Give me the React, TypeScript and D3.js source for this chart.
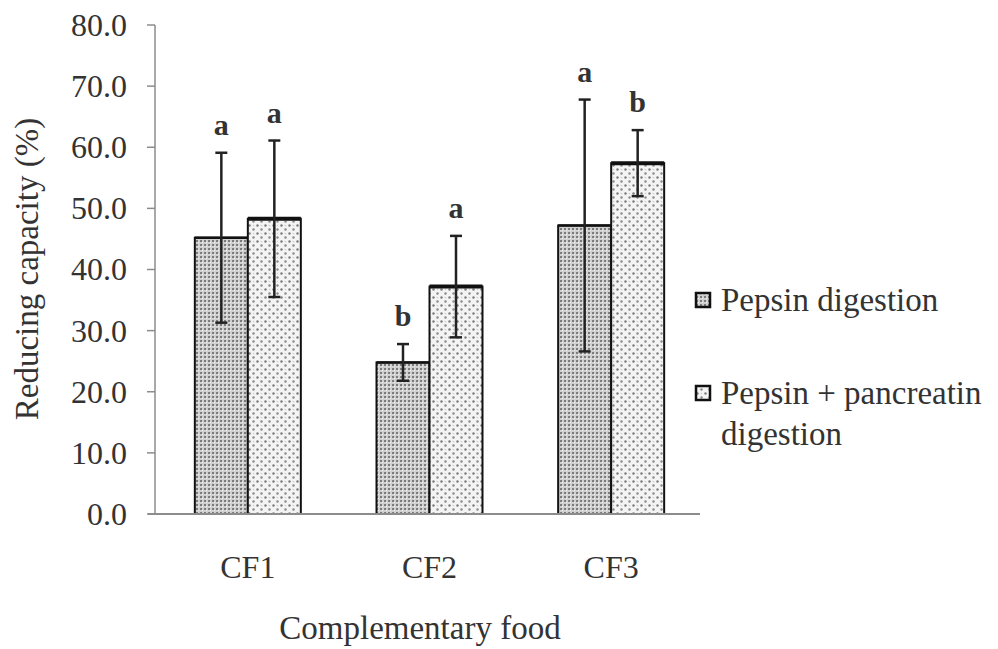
import React, { useEffect, useRef } from 'react';
import * as d3 from 'd3';

const categories = ['CF1', 'CF2', 'CF3'];
const seriesNames = ['Pepsin digestion', 'Pepsin + pancreatin digestion'];
const pepsinMeans = [45.2, 24.8, 47.2];
const pepsinSd = [13.9, 3.0, 20.6];
const pepsinLetters = ['a', 'b', 'a'];
const pancreatinMeans = [48.3, 37.2, 57.4];
const pancreatinSd = [12.8, 8.3, 5.4];
const pancreatinLetters = ['a', 'a', 'b'];
const yTicks = [0, 10, 20, 30, 40, 50, 60, 70, 80];

const FONT = '"Liberation Serif", "DejaVu Serif", serif';

export default function App() {
    const svgRef = useRef<SVGSVGElement>(null);

    useEffect(() => {
        const svg = d3.select(svgRef.current);
        svg.selectAll('*').remove();

        const left = 155, right = 700, top = 25, bottom = 514;

        const y = d3.scaleLinear().domain([0, 80]).range([bottom, top]);
        const x0 = d3.scaleBand<string>().domain(categories).range([157, 702]);
        const x1 = d3.scaleBand<string>().domain(seriesNames).range([0, 106]);
        const groupOffset = (x0.bandwidth() - 106) / 2;

        // fill patterns
        const defs = svg.append('defs');
        const p1 = defs.append('pattern')
            .attr('id', 'pat-pepsin')
            .attr('patternUnits', 'userSpaceOnUse')
            .attr('width', 4).attr('height', 4);
        p1.append('rect').attr('width', 4).attr('height', 4).attr('fill', '#d0d0d0');
        p1.append('rect').attr('x', 0).attr('y', 0).attr('width', 2).attr('height', 2).attr('fill', '#7c7c7c');
        p1.append('rect').attr('x', 2).attr('y', 2).attr('width', 1).attr('height', 1).attr('fill', '#f4f4f4');

        const p2 = defs.append('pattern')
            .attr('id', 'pat-pancreatin')
            .attr('patternUnits', 'userSpaceOnUse')
            .attr('width', 8).attr('height', 8);
        p2.append('rect').attr('width', 8).attr('height', 8).attr('fill', '#f4f4f4');
        p2.append('circle').attr('cx', 1.5).attr('cy', 1.5).attr('r', 1.2).attr('fill', '#7a7a7a');
        p2.append('circle').attr('cx', 5.5).attr('cy', 5.5).attr('r', 1.2).attr('fill', '#8a8a8a');
        p2.append('circle').attr('cx', 5.5).attr('cy', 1.5).attr('r', 0.7).attr('fill', '#c8c8c8');

        const patterns = ['url(#pat-pepsin)', 'url(#pat-pancreatin)'];

        // y axis
        const yAxis = svg.append('g').attr('class', 'y-axis');
        yAxis.append('line')
            .attr('x1', left).attr('x2', left)
            .attr('y1', top).attr('y2', bottom)
            .attr('stroke', '#8c8c8c').attr('stroke-width', 1.5);
        yAxis.selectAll('line.tick')
            .data(yTicks)
            .join('line')
            .attr('class', 'tick')
            .attr('x1', left - 8).attr('x2', left)
            .attr('y1', d => y(d)).attr('y2', d => y(d))
            .attr('stroke', '#8c8c8c').attr('stroke-width', 1.5);
        yAxis.selectAll('text')
            .data(yTicks)
            .join('text')
            .attr('x', 127)
            .attr('y', d => y(d))
            .attr('dy', '0.34em')
            .attr('text-anchor', 'end')
            .attr('font-family', FONT)
            .attr('font-size', 32)
            .attr('fill', '#333')
            .text(d => d3.format('.1f')(d));

        svg.append('text')
            .attr('transform', `translate(38, ${(110 + 428) / 2}) rotate(-90)`)
            .attr('text-anchor', 'middle')
            .attr('font-family', FONT)
            .attr('font-size', 33)
            .attr('fill', '#333')
            .text('Reducing capacity (%)');

        // bars
        const bars = svg.append('g').attr('class', 'bars');
        const seriesData = [
            { means: pepsinMeans, sd: pepsinSd, letters: pepsinLetters },
            { means: pancreatinMeans, sd: pancreatinSd, letters: pancreatinLetters },
        ];

        seriesData.forEach((s, si) => {
            const name = seriesNames[si];
            const rows = categories.map((c, i) => ({ c, m: s.means[i], sd: s.sd[i], l: s.letters[i] }));
            const bx = (c: string) => (x0(c) as number) + groupOffset + (x1(name) as number);
            const g = bars.append('g');

            g.selectAll('rect')
                .data(rows)
                .join('rect')
                .attr('x', d => bx(d.c))
                .attr('y', d => y(d.m))
                .attr('width', x1.bandwidth())
                .attr('height', d => y(0) - y(d.m))
                .attr('fill', patterns[si])
                .attr('stroke', '#111')
                .attr('stroke-width', 2);

            g.selectAll('line.top')
                .data(rows)
                .join('line')
                .attr('class', 'top')
                .attr('x1', d => bx(d.c)).attr('x2', d => bx(d.c) + x1.bandwidth())
                .attr('y1', d => y(d.m)).attr('y2', d => y(d.m))
                .attr('stroke', '#111').attr('stroke-width', si === 1 ? 4 : 2.5);

            const cx = (c: string) => bx(c) + x1.bandwidth() / 2;

            g.selectAll('line.err')
                .data(rows)
                .join('line')
                .attr('class', 'err')
                .attr('x1', d => cx(d.c)).attr('x2', d => cx(d.c))
                .attr('y1', d => y(d.m - d.sd)).attr('y2', d => y(d.m + d.sd))
                .attr('stroke', '#222').attr('stroke-width', 2.5);

            [1, -1].forEach(sign => {
                g.selectAll(`line.cap${sign}`)
                    .data(rows)
                    .join('line')
                    .attr('class', `cap${sign}`)
                    .attr('x1', d => cx(d.c) - 6).attr('x2', d => cx(d.c) + 6)
                    .attr('y1', d => y(d.m + sign * d.sd)).attr('y2', d => y(d.m + sign * d.sd))
                    .attr('stroke', '#222').attr('stroke-width', 2.5);
            });

            g.selectAll('text')
                .data(rows)
                .join('text')
                .attr('x', d => cx(d.c))
                .attr('y', d => y(d.m + d.sd) - 18)
                .attr('text-anchor', 'middle')
                .attr('font-family', FONT)
                .attr('font-weight', 'bold')
                .attr('font-size', 30)
                .attr('fill', '#333')
                .text(d => d.l);
        });

        // x axis
        svg.append('line')
            .attr('x1', left - 7).attr('x2', right)
            .attr('y1', bottom).attr('y2', bottom)
            .attr('stroke', '#8c8c8c').attr('stroke-width', 2);

        svg.append('g').selectAll('text')
            .data(categories)
            .join('text')
            .attr('x', d => (x0(d) as number) + x0.bandwidth() / 2)
            .attr('y', 578)
            .attr('text-anchor', 'middle')
            .attr('font-family', FONT)
            .attr('font-size', 32)
            .attr('fill', '#333')
            .text(d => d);

        svg.append('text')
            .attr('x', 420)
            .attr('y', 639)
            .attr('text-anchor', 'middle')
            .attr('font-family', FONT)
            .attr('font-size', 33)
            .attr('fill', '#333')
            .text('Complementary food');

        // legend
        const legend = svg.append('g').attr('class', 'legend');
        const legendRows = [
            { top: 293, lines: ['Pepsin digestion'] },
            { top: 386, lines: ['Pepsin + pancreatin', 'digestion'] },
        ];
        legendRows.forEach((r, i) => {
            legend.append('rect')
                .attr('x', 696).attr('y', r.top)
                .attr('width', 14).attr('height', 14)
                .attr('fill', patterns[i])
                .attr('stroke', '#111').attr('stroke-width', 2.5);
            r.lines.forEach((t, li) => {
                legend.append('text')
                    .attr('x', 721)
                    .attr('y', r.top + 18 + li * 41)
                    .attr('font-family', FONT)
                    .attr('font-size', 33)
                    .attr('fill', '#333')
                    .text(t);
            });
        });
    }, []);

    return (
        <svg
            ref={svgRef}
            width={998}
            height={649}
            style={{ position: 'absolute', left: 0, top: 0, background: '#fff' }}
        />
    );
}
